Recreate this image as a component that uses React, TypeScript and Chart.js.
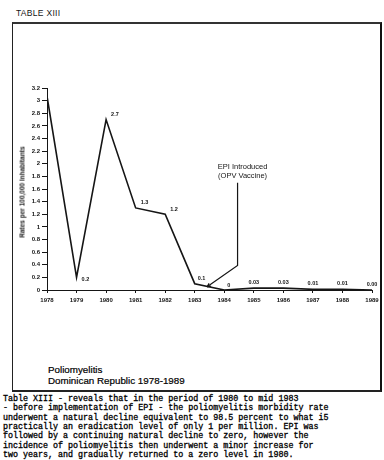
import React, { useEffect, useRef } from "react";
import { Chart, registerables } from "chart.js";

Chart.register(...registerables);

// ---- data ----
const years = [1978, 1979, 1980, 1981, 1982, 1983, 1984, 1985, 1986, 1987, 1988, 1989];
const rates = [3.07, 0.2, 2.7, 1.3, 1.2, 0.1, 0, 0.03, 0.03, 0.01, 0.01, 0.0];
const valueLabels = ["", "0.2", "2.7", "1.3", "1.2", "0.1", "0", "0.03", "0.03", "0.01", "0.01", "0.00"];
const yTickValues = [0, 0.2, 0.4, 0.6, 0.8, 1, 1.2, 1.4, 1.6, 1.8, 2, 2.2, 2.4, 2.6, 2.8, 3, 3.2];
const yAxisTitle = "Rates per 100,000 Inhabitants";
const epiText = ["EPI Introduced", "(OPV Vaccine)"];
// arrow path in data units (year, rate)
const epiArrowX = [1984.45, 1984.45, 1983.42];
const epiArrowY = [1.7, 0.39, 0.05];
const tableTitle = "TABLE XIII";
const captionLines = ["Poliomyelitis", "Dominican Republic 1978-1989"];
const paragraphLines = [
  "Table XIII - reveals that in the period of 1980 to mid 1983",
  "- before implementation of EPI - the poliomyelitis morbidity rate",
  "underwent a natural decline equivalent to 98.5 percent to what i5",
  "practically an eradication level of only 1 per million. EPI was",
  "followed by a continuing natural decline to zero, however the",
  "incidence of poliomyelitis then underwent a minor increase for",
  "two years, and gradually returned to a zero level in 1980.",
];

const INK = "#151515";
const SANS = "'Liberation Sans', Arial, sans-serif";

const annotationPlugin = {
  id: "annot",
  afterDatasetsDraw(chart: any) {
    const { ctx, scales } = chart;
    const xs = scales.x;
    const ys = scales.y;
    ctx.save();
    ctx.fillStyle = INK;
    ctx.font = `bold 5.5px ${SANS}`;
    ctx.textBaseline = "middle";
    valueLabels.forEach((lab, i) => {
      if (!lab) return;
      const px = xs.getPixelForValue(years[i]);
      const py = ys.getPixelForValue(rates[i]);
      const prev = i > 0 ? rates[i - 1] : Infinity;
      const next = i < rates.length - 1 ? rates[i + 1] : Infinity;
      const isMin = rates[i] < prev && rates[i] < next && rates[i] > 0.05;
      if (i >= 7) {
        ctx.textAlign = "center";
        ctx.fillText(lab, px, py - 6);
        return;
      }
      ctx.textAlign = "left";
      const x = px + (i >= 5 ? 3 : 5);
      const y = isMin ? py + 2 : py - 5;
      ctx.fillText(lab, x, y);
    });

    // EPI arrow
    ctx.strokeStyle = INK;
    ctx.lineWidth = 1.2;
    ctx.beginPath();
    epiArrowX.forEach((v, i) => {
      const px = xs.getPixelForValue(v);
      const py = ys.getPixelForValue(epiArrowY[i]);
      if (i === 0) ctx.moveTo(px, py);
      else ctx.lineTo(px, py);
    });
    ctx.stroke();
    // arrowhead
    const n = epiArrowX.length;
    const ex = xs.getPixelForValue(epiArrowX[n - 1]);
    const ey = ys.getPixelForValue(epiArrowY[n - 1]);
    const sx = xs.getPixelForValue(epiArrowX[n - 2]);
    const sy = ys.getPixelForValue(epiArrowY[n - 2]);
    const ang = Math.atan2(ey - sy, ex - sx);
    ctx.beginPath();
    ctx.moveTo(ex, ey);
    ctx.lineTo(ex - 4 * Math.cos(ang - 0.45), ey - 4 * Math.sin(ang - 0.45));
    ctx.moveTo(ex, ey);
    ctx.lineTo(ex - 4 * Math.cos(ang + 0.45), ey - 4 * Math.sin(ang + 0.45));
    ctx.stroke();

    // EPI text
    const tx = xs.getPixelForValue(epiArrowX[0]) + 5;
    const ty = ys.getPixelForValue(epiArrowY[0]);
    ctx.font = `7.5px ${SANS}`;
    ctx.textAlign = "center";
    ctx.fillText(epiText[0], tx, ty - 16);
    ctx.fillText(epiText[1], tx, ty - 7);
    ctx.restore();
  },
};

export default function App() {
  const ref = useRef<HTMLCanvasElement | null>(null);

  useEffect(() => {
    if (!ref.current) return;
    const CH = 330;
    const chart = new Chart(ref.current, {
      type: "line",
      data: {
        datasets: [
          {
            data: years.map((y, i) => ({ x: y, y: rates[i] })),
            borderColor: INK,
            borderWidth: 1.6,
            pointRadius: 0,
            tension: 0,
            fill: false,
          },
        ],
      },
      options: {
        animation: false,
        responsive: false,
        devicePixelRatio: 1,
        layout: { padding: { top: 88, right: 12, left: 0, bottom: 0 } },
        plugins: { legend: { display: false }, tooltip: { enabled: false }, title: { display: false } },
        scales: {
          x: {
            type: "linear",
            min: years[0],
            max: years[years.length - 1],
            afterFit: (s: any) => {
              s.height = CH - 290;
              s.paddingLeft = 0;
              s.paddingRight = 0;
            },
            afterBuildTicks: (s: any) => {
              s.ticks = years.map((v) => ({ value: v }));
            },
            border: { display: true, color: INK, width: 1 },
            grid: { drawOnChartArea: false, drawTicks: true, tickLength: 3, color: INK },
            ticks: {
              autoSkip: false,
              maxRotation: 0,
              padding: 4,
              color: INK,
              font: { size: 6, weight: "bold", family: SANS },
              callback: (v: any) => String(v),
            },
          },
          y: {
            type: "linear",
            min: 0,
            max: 3.2,
            afterFit: (s: any) => {
              s.width = 47;
              s.paddingTop = 0;
              s.paddingBottom = 0;
            },
            afterBuildTicks: (s: any) => {
              s.ticks = yTickValues.map((v) => ({ value: v }));
            },
            border: { display: true, color: INK, width: 1 },
            grid: { drawOnChartArea: false, drawTicks: true, tickLength: 5, color: INK },
            ticks: {
              padding: 2,
              color: INK,
              font: { size: 6, weight: "bold", family: SANS },
              callback: (v: any) => String(Number(Number(v).toFixed(1))),
            },
          },
        },
      } as any,
      plugins: [annotationPlugin],
    });
    return () => chart.destroy();
  }, []);

  return (
    <div
      style={{
        position: "absolute",
        left: 0,
        top: 0,
        width: 384,
        height: 460,
        background: "#fff",
        overflow: "hidden",
        color: INK,
      }}
    >
      <div
        style={{
          position: "absolute",
          left: 16,
          top: 8,
          font: `8.5px ${SANS}`,
          letterSpacing: "0.3px",
          lineHeight: "10px",
        }}
      >
        {tableTitle}
      </div>
      <div
        style={{
          position: "absolute",
          left: 12,
          top: 22,
          width: 367,
          height: 366,
          borderLeft: "1px solid #222",
          borderTop: "2px solid #333",
          borderRight: "2px solid #111",
          borderBottom: "2px solid #222",
        }}
      />
      <canvas ref={ref} width={384} height={330} style={{ position: "absolute", left: 0, top: 0 }} />
      <div
        style={{
          position: "absolute",
          left: 22,
          top: 192,
          transform: "translate(-50%, -50%) rotate(-90deg)",
          whiteSpace: "nowrap",
          font: `bold 6.5px ${SANS}`,
        }}
      >
        {yAxisTitle}
      </div>
      <div
        style={{
          position: "absolute",
          left: 48,
          top: 365,
          font: `9.8px ${SANS}`,
          lineHeight: "10.5px",
          whiteSpace: "pre",
          color: "#000",
          WebkitTextStroke: "0.2px #000",
        }}
      >
        {captionLines.map((l, i) => (
          <div key={i}>{l}</div>
        ))}
      </div>
      <div
        style={{
          position: "absolute",
          left: 3,
          top: 395,
          font: `8.35px 'Liberation Mono', 'DejaVu Sans Mono', monospace`,
          lineHeight: "9.35px",
          whiteSpace: "pre",
          color: "#000",
          WebkitTextStroke: "0.3px #000",
        }}
      >
        {paragraphLines.map((l, i) => (
          <div key={i}>{l}</div>
        ))}
      </div>
    </div>
  );
}
